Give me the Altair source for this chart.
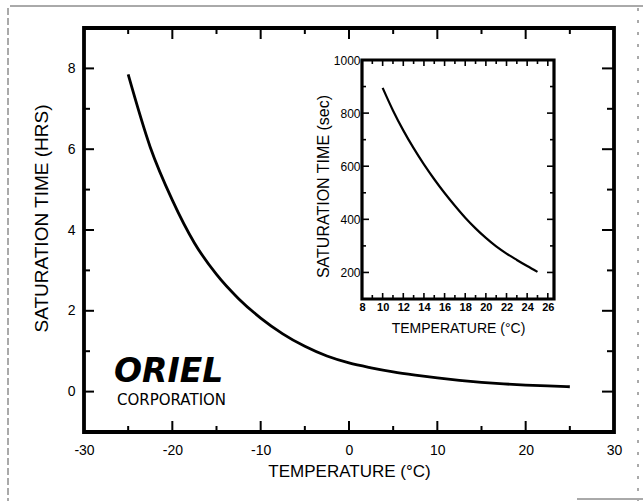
import altair as alt
import pandas as pd

# ---------------- data ----------------
main_temp = [-25, -22.5, -20, -17.5, -15, -12.5, -10, -7.5, -5, -2.5, 0,
             2.5, 5, 7.5, 10, 12.5, 15, 17.5, 20, 22.5, 25]
main_hours = [7.85, 6.05, 4.74, 3.68, 2.9, 2.3, 1.82, 1.43, 1.12, 0.88, 0.71,
              0.59, 0.49, 0.41, 0.34, 0.28, 0.23, 0.19, 0.16, 0.14, 0.12]

inset_temp = [10, 11, 12, 13, 14, 15, 16, 17, 18, 19, 20, 21, 22, 23, 24, 25]
inset_sec = [895, 810, 735, 668, 607, 551, 499, 451, 406, 366, 330, 298,
             271, 247, 224, 202]

main_x_labels = [-30, -20, -10, 0, 10, 20, 30]
main_y_labels = [0, 2, 4, 6, 8]
main_x_major = [-20, -10, 0, 10, 20]
main_x_minor = [-25, -15, -5, 5, 15, 25]
main_y_major = [0, 2, 4, 6, 8]
main_y_minor = [1, 3, 5, 7]

inset_x_labels = [8, 10, 12, 14, 16, 18, 20, 22, 24, 26]
inset_y_labels = [200, 400, 600, 800, 1000]
inset_x_major = [10, 12, 14, 16, 18, 20, 22, 24, 26]
inset_x_minor = [9, 11, 13, 15, 17, 19, 21, 23, 25]
inset_y_major = [200, 400, 600, 800]
inset_y_minor = [300, 500, 700, 900]

main_x_title = "TEMPERATURE (°C)"
main_y_title = "SATURATION TIME (HRS)"
inset_x_title = "TEMPERATURE (°C)"
inset_y_title = "SATURATION TIME (sec)"
logo_word = ["ORIEL"]
logo_sub = ["CORPORATION"]

# ---------------- layout ----------------
W, H = 530, 404
PAD = {"left": 84, "top": 28, "right": 643 - 84 - W, "bottom": 501 - 28 - H}
X_MAIN, Y_MAIN = [-30, 30], [-1, 9]
X_INSET, Y_INSET = [8, 26.6], [100, 1000]
IN_L, IN_R, IN_T, IN_B = 278, 470, 32, 271
FONT = "Liberation Sans"


def xs():
    return alt.Scale(domain=X_MAIN, range=[0, W], nice=False, zero=False)


def ys():
    return alt.Scale(domain=Y_MAIN, range=[H, 0], nice=False, zero=False)


def xi():
    return alt.Scale(domain=X_INSET, range=[IN_L, IN_R], nice=False, zero=False)


def yi():
    return alt.Scale(domain=Y_INSET, range=[IN_B, IN_T], nice=False, zero=False)


def xticks(vals, scale, y0, y1, w=2):
    return alt.Chart(pd.DataFrame({"v": vals})).mark_rule(
        color="black", strokeWidth=w).encode(
        x=alt.X("v:Q", scale=scale, axis=None),
        y=alt.value(y0), y2=alt.value(y1))


def yticks(vals, scale, x0, x1, w=2):
    return alt.Chart(pd.DataFrame({"v": vals})).mark_rule(
        color="black", strokeWidth=w).encode(
        y=alt.Y("v:Q", scale=scale, axis=None),
        x=alt.value(x0), x2=alt.value(x1))


# ---------------- main plot ----------------
main_curve = alt.Chart(pd.DataFrame({"t": main_temp, "h": main_hours})).mark_line(
    color="black", strokeWidth=2.8, interpolate="monotone").encode(
    x=alt.X("t:Q", scale=xs(), axis=alt.Axis(
        orient="bottom", values=main_x_labels, title=main_x_title,
        ticks=False, domain=False, grid=False, labelFlush=False,
        labelOverlap=False, labelFontSize=14, labelPadding=11,
        labelExpr="'' + datum.value", titleFontSize=17,
        titleFontWeight="normal", titlePadding=6)),
    y=alt.Y("h:Q", scale=ys(), axis=alt.Axis(
        orient="left", values=main_y_labels, title=main_y_title,
        ticks=False, domain=False, grid=False, labelFlush=False,
        labelOverlap=False, labelFontSize=14, labelPadding=9,
        titleFontSize=19, titleFontWeight="normal", titlePadding=16,
        titleY=190)),
)

main_ticks = [
    xticks(main_x_major, xs(), H, H - 11), xticks(main_x_minor, xs(), H, H - 6),
    xticks(main_x_major, xs(), 0, 11), xticks(main_x_minor, xs(), 0, 6),
    yticks(main_y_major, ys(), 0, 10), yticks(main_y_minor, ys(), 0, 6),
    yticks(main_y_major, ys(), W, W - 12), yticks(main_y_minor, ys(), W, W - 7),
]

# ---------------- inset ----------------
inset_frame = alt.Chart(pd.DataFrame({"a": [0]})).mark_rect(
    fill="white", stroke="black", strokeWidth=3.2).encode(
    x=alt.value(IN_L), x2=alt.value(IN_R), y=alt.value(IN_T), y2=alt.value(IN_B))

inset_curve = alt.Chart(pd.DataFrame({"t": inset_temp, "s": inset_sec})).mark_line(
    color="black", strokeWidth=2.2, interpolate="monotone").encode(
    x=alt.X("t:Q", scale=xi(), axis=alt.Axis(
        orient="bottom", offset=-(H - IN_B), values=inset_x_labels,
        title=inset_x_title, ticks=False, domain=False, grid=False,
        labelFlush=False, labelOverlap=False, labelFontSize=11,
        labelFontWeight="bold", labelPadding=2, titleFontSize=14,
        titleFontWeight="normal", titlePadding=9)),
    y=alt.Y("s:Q", scale=yi(), axis=alt.Axis(
        orient="left", offset=-IN_L, values=inset_y_labels, format="d",
        title=inset_y_title, ticks=False, domain=False, grid=False,
        labelFlush=False, labelOverlap=False, labelFontSize=12,
        labelPadding=2, titleFontSize=16, titleFontWeight="normal",
        titlePadding=2, titleY=158)),
)

inset_ticks = [
    xticks(inset_x_major, xi(), IN_B, IN_B - 6, 1.6), xticks(inset_x_minor, xi(), IN_B, IN_B - 4, 1.6),
    xticks(inset_x_major, xi(), IN_T, IN_T + 6, 1.6), xticks(inset_x_minor, xi(), IN_T, IN_T + 4, 1.6),
    yticks(inset_y_major, yi(), IN_L, IN_L + 7, 1.6), yticks(inset_y_minor, yi(), IN_L, IN_L + 4, 1.6),
    yticks(inset_y_major, yi(), IN_R, IN_R - 7, 1.6), yticks(inset_y_minor, yi(), IN_R, IN_R - 4, 1.6),
]

# ---------------- logo ----------------
logo1 = alt.Chart(pd.DataFrame({"t": logo_word})).mark_text(
    font="DejaVu Sans", fontSize=33, fontWeight="bold", fontStyle="italic",
    align="left", baseline="alphabetic", color="black").encode(
    text="t:N", x=alt.value(30), y=alt.value(354))
logo2 = alt.Chart(pd.DataFrame({"t": logo_sub})).mark_text(
    font="DejaVu Sans", fontSize=15, align="left", baseline="alphabetic",
    color="black").encode(text="t:N", x=alt.value(33), y=alt.value(377))


# ---------------- scan border ----------------
def border(dash, **enc):
    return alt.Chart(pd.DataFrame({"a": [0]})).mark_rule(
        color="#555", strokeWidth=1, strokeDash=dash).encode(**enc)


borders = [
    border([1, 0], x=alt.value(-74), x2=alt.value(560), y=alt.value(-22)),
    border([7, 3], x=alt.value(-76), y=alt.value(-20), y2=alt.value(473)),
    border([3, 9], x=alt.value(554), y=alt.value(-20), y2=alt.value(473)),
    border([1, 0], x=alt.value(493), x2=alt.value(559), y=alt.value(471)),
]

chart = alt.layer(
    main_curve, *main_ticks, inset_frame, inset_curve, *inset_ticks,
    logo1, logo2, *borders
).resolve_scale(x="independent", y="independent").properties(
    width=W, height=H, padding=PAD,
    autosize=alt.AutoSizeParams(type="none"),
    background="white").configure_view(
    stroke="black", strokeWidth=3.8).configure_axis(
    labelFont=FONT, titleFont=FONT, labelColor="black", titleColor="black")

chart.save("out.html", embed_options={"renderer": "svg", "actions": False})
